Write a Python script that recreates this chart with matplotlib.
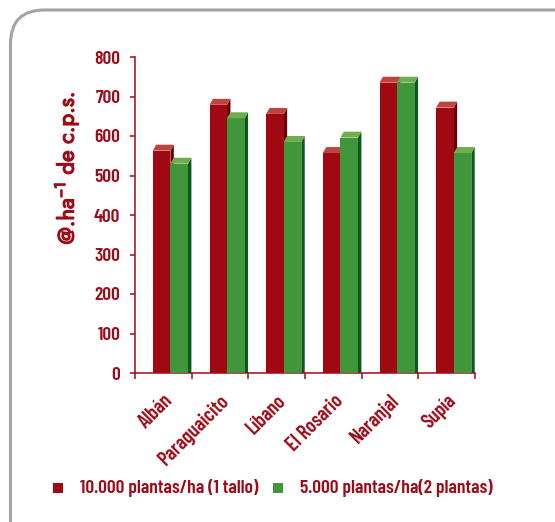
import numpy as np
import matplotlib
matplotlib.use("Agg")
import matplotlib.pyplot as plt
import matplotlib.patheffects as pe
from matplotlib.patches import Polygon, Rectangle, PathPatch
from matplotlib.path import Path

# ------------------------------------------------------------
# data
# ------------------------------------------------------------
localidades = ["Albán", "Paraguaicito", "Líbano", "El Rosario", "Naranjal", "Supía"]
tallo_1 = [563, 679, 656, 557, 735, 672]      # 10.000 plantas/ha (1 tallo)
plantas_2 = [530, 645, 585, 596, 735, 557]    # 5.000 plantas/ha (2 plantas)
y_ticks = [0, 100, 200, 300, 400, 500, 600, 700, 800]
serie_1 = "10.000 plantas/ha (1 tallo)"
serie_2 = "5.000 plantas/ha(2 plantas)"

DARK_RED = "#9e0a16"
RED_FACE, RED_TOP, RED_SIDE = "#a00812", "#c0443e", "#6a0008"
GRN_FACE, GRN_TOP, GRN_SIDE = "#40963a", "#6fae4c", "#0b5a1c"

plt.rcParams["font.family"] = ["Barlow Condensed", "DejaVu Sans"]
FW = 600

fig = plt.figure(figsize=(5.55, 5.22), dpi=100)

# rounded frame around the whole chart (pixel coords)
bg = fig.add_axes([0, 0, 1, 1])
bg.set_xlim(0, 555)
bg.set_ylim(522, 0)
bg.axis("off")
r = 34
x0, y0 = 10.5, 10
verts = [(x0, 540), (x0, y0 + r), (x0, y0), (x0 + r, y0), (600, y0)]
codes = [Path.MOVETO, Path.LINETO, Path.CURVE3, Path.CURVE3, Path.LINETO]
bg.add_patch(PathPatch(Path(verts, codes), fill=False, ec="#a3a3a3", lw=2.2))

# main axes
ax = fig.add_axes([135 / 555, 1 - 373 / 522, 340 / 555, 316 / 522])
ax.set_xlim(-0.5, len(localidades) - 0.5)
ax.set_ylim(0, 800)
ax.patch.set_alpha(0)

w = 0.31
dx, dy = 0.06, 15


def bar3d(x, h, face, top, side):
    ax.add_patch(Polygon([(x + w, 0), (x + w + dx, 0), (x + w + dx, h + dy), (x + w, h)],
                         closed=True, fc=side, ec="none", zorder=2))
    ax.add_patch(Rectangle((x, 0), w, h, fc=face, ec="none", zorder=3))
    ax.add_patch(Polygon([(x, h), (x + dx, h + dy), (x + w + dx, h + dy), (x + w, h)],
                         closed=True, fc=top, ec="none", zorder=3))


idx = np.arange(len(localidades))
for i in idx:
    bar3d(i - 0.185, tallo_1[i], RED_FACE, RED_TOP, RED_SIDE)
    bar3d(i - 0.185 + w, plantas_2[i], GRN_FACE, GRN_TOP, GRN_SIDE)

for s in ["top", "right"]:
    ax.spines[s].set_visible(False)
for s in ["left", "bottom"]:
    ax.spines[s].set_color(DARK_RED)
    ax.spines[s].set_linewidth(1.1)

ax.set_yticks(y_ticks)
ax.set_yticklabels([str(v) for v in y_ticks])
ax.tick_params(axis="y", colors=DARK_RED, length=3.5, width=1.1, pad=7, labelsize=14)
for t in ax.get_yticklabels():
    t.set_fontweight(FW)

ax.set_xticks(np.arange(-0.5, len(localidades)))
ax.set_xticklabels([])
ax.tick_params(axis="x", colors=DARK_RED, length=4, width=1.1)
for i, name in enumerate(localidades):
    ax.text(i + 0.0, -45, name, rotation=45, ha="right", va="top",
            rotation_mode="anchor", color=DARK_RED, fontsize=14.5, fontweight=FW)

ylab = fig.text(66 / 555, 1 - 168 / 522, "@.ha$^{\\mathregular{-1}}$ de c.p.s.", rotation=90,
                ha="center", va="center", color=DARK_RED, fontsize=16,
                family=["Jost", "DejaVu Sans"])
ylab.set_path_effects([pe.withStroke(linewidth=0.9, foreground=DARK_RED)])

# legend
for sx, col, label, tx in [(58, RED_FACE, serie_1, 80),
                           (278, GRN_FACE, serie_2, 300)]:
    bg.add_patch(Rectangle((sx - 5, 483), 10, 10, fc=col, ec="none"))
    bg.text(tx, 488, label, ha="left", va="center", color=DARK_RED, fontsize=14,
            fontweight=FW)

fig.savefig("out.png", dpi=100)
